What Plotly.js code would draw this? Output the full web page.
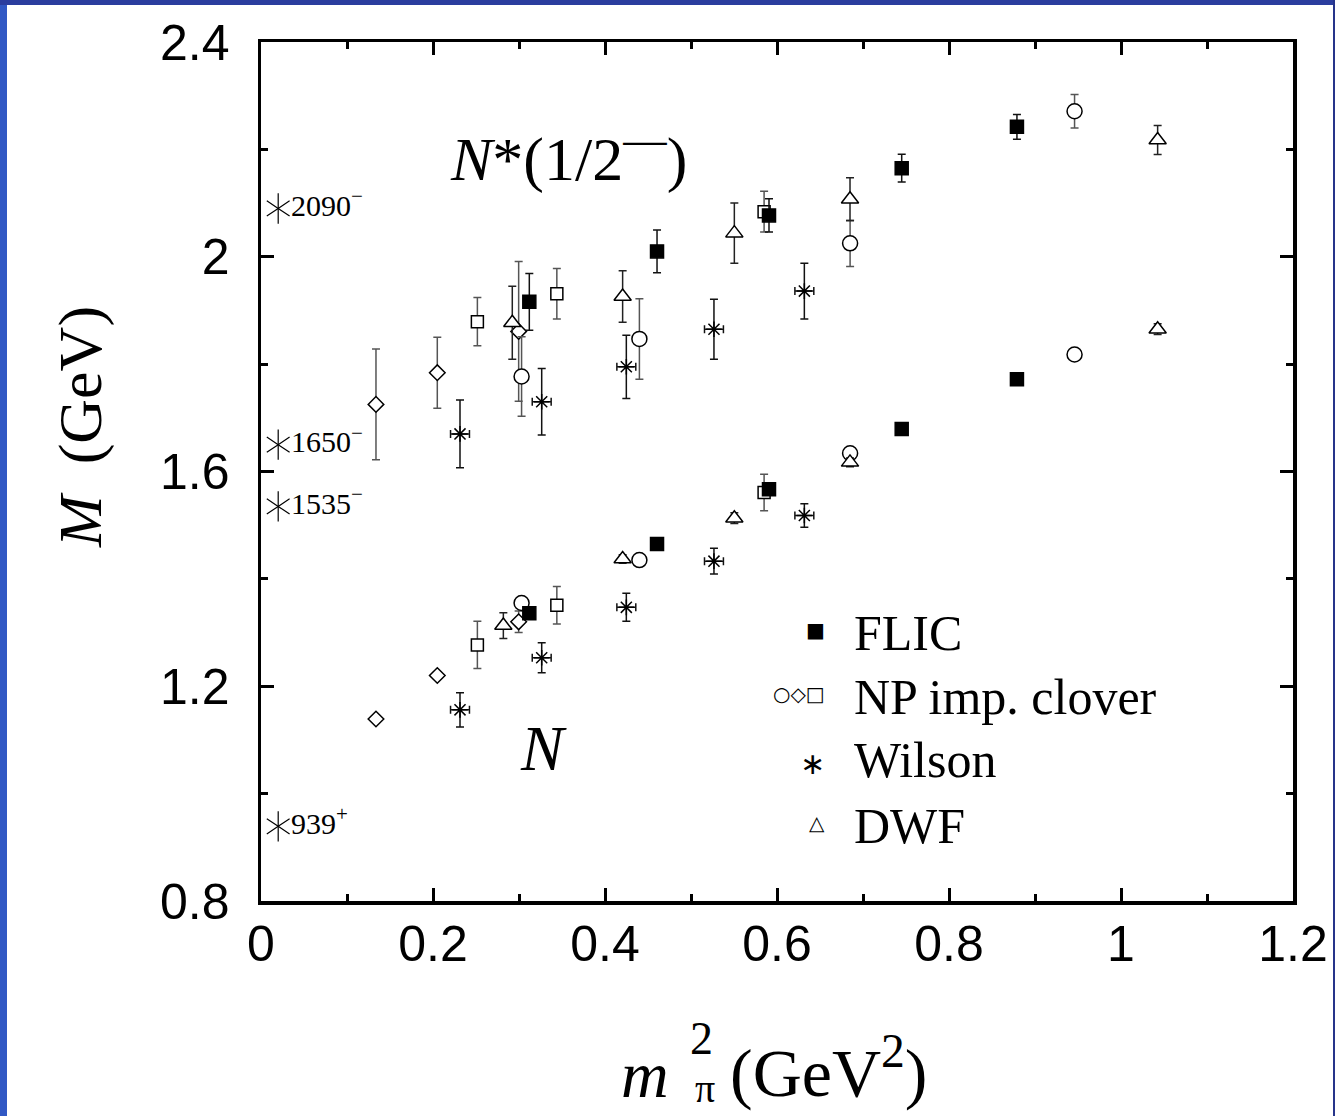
<!DOCTYPE html>
<html>
<head>
<meta charset="utf-8">
<script src="https://cdn.plot.ly/plotly-3.0.1.min.js"></script>
<style>
  html, body { margin: 0; padding: 0; background: #ffffff; }
  #chart { position: absolute; left: 0; top: 0; width: 1335px; height: 1116px; }
  .bl { position: absolute; left: 0; top: 0; width: 7px; height: 1116px; background: #3158c4; }
  .bt { position: absolute; left: 0; top: 0; width: 1335px; height: 5px; background: #2b3d9e; }
  .br { position: absolute; right: 0; top: 0; width: 2px; height: 1116px; background: #26348a; }
</style>
</head>
<body>
<div id="chart"></div>
<div class="bl"></div><div class="bt"></div><div class="br"></div>
<script>
// ---- data (m_pi^2 in GeV^2, M in GeV) ----
// FLIC
const flicX      = [0.312, 0.4605, 0.5907, 0.745, 0.879];
const flicNstar  = [1.916, 2.010, 2.077, 2.165, 2.242];
const flicNstarE = [0.053, 0.040, 0.031, 0.026, 0.023];
const flicN      = [1.336, 1.465, 1.567, 1.679, 1.772];
const flicNE     = [0.008, 0.008, 0.008, 0.008, 0.006];
// NP imp. clover: circles
const circX      = [0.303, 0.440, 0.685, 0.946];
const circNstar  = [1.777, 1.847, 2.025, 2.271];
const circNstarE = [0.074, 0.075, 0.043, 0.031];
const circN      = [1.355, 1.435, 1.634, 1.818];
const circNE     = [0.010, 0.008, 0.008, 0.006];
// NP imp. clover: diamonds
const diamX      = [0.1337, 0.205, 0.2996];
const diamNstar  = [1.725, 1.784, 1.861];
const diamNstarE = [0.103, 0.066, 0.130];
const diamN      = [1.139, 1.220, 1.320];
const diamNE     = [0.006, 0.006, 0.020];
// NP imp. clover: squares
const sqX        = [0.2516, 0.344, 0.585];
const sqNstar    = [1.879, 1.931, 2.084];
const sqNstarE   = [0.045, 0.047, 0.038];
const sqN        = [1.277, 1.351, 1.561];
const sqNE       = [0.044, 0.035, 0.034];
// Wilson
const wilX       = [0.2314, 0.3264, 0.4248, 0.5267, 0.6318];
const wilXE      = [0.011, 0.011, 0.011, 0.011, 0.011];
const wilNstar   = [1.670, 1.730, 1.795, 1.865, 1.936];
const wilNstarE  = [0.063, 0.062, 0.059, 0.056, 0.052];
const wilN       = [1.156, 1.253, 1.347, 1.433, 1.518];
const wilNE      = [0.032, 0.028, 0.026, 0.024, 0.022];
// DWF
const dwfXstar   = [0.2922, 0.4205, 0.5504, 0.6849, 1.0426];
const dwfNstar   = [1.877, 1.926, 2.044, 2.107, 2.2175];
const dwfNstarE  = [0.068, 0.048, 0.056, 0.040, 0.027];
const dwfX       = [0.2818, 0.4205, 0.5504, 0.6849, 1.0426];
const dwfN       = [1.313, 1.437, 1.513, 1.617, 1.865];
const dwfNE      = [0.024, 0.008, 0.010, 0.008, 0.010];
// physical states
const physX      = [0.02, 0.02, 0.02, 0.02];
const physM      = [2.090, 1.650, 1.535, 0.939];
const physLabels = ['2090<sup>−</sup>', '1650<sup>−</sup>', '1535<sup>−</sup>', '939<sup>+</sup>'];
// legend
const legendNames = ['FLIC', 'NP imp. clover', 'Wilson', 'DWF'];
const legendKeys  = ['■', '○◇□', '∗', '△'];

const serif = 'Liberation Serif, Times New Roman, serif';
const sans  = 'Liberation Sans, Arial, sans-serif';

function ey(arr, color) {
  return {type: 'data', array: arr, visible: true, color: color, thickness: 1.5, width: 4};
}
function pts(x, y, e, symbol, size, fill, ecol, extra) {
  const t = {
    type: 'scatter', mode: 'markers', x: x, y: y,
    error_y: ey(e, ecol),
    marker: {symbol: symbol, size: size, color: fill, line: {color: '#000', width: 1.5}},
    showlegend: false, hoverinfo: 'skip', cliponaxis: false
  };
  return Object.assign(t, extra || {});
}

const traces = [
  pts(diamX, diamNstar, diamNstarE, 'diamond', 12, '#fff', '#555'),
  pts(diamX, diamN, diamNE, 'diamond', 12, '#fff', '#555'),
  pts(circX, circNstar, circNstarE, 'circle', 15, '#fff', '#555'),
  pts(circX, circN, circNE, 'circle', 15, '#fff', '#555'),
  pts(sqX, sqNstar, sqNstarE, 'square', 12, '#fff', '#555'),
  pts(sqX, sqN, sqNE, 'square', 12, '#fff', '#555'),
  pts(dwfXstar, dwfNstar, dwfNstarE, 'triangle-up', 15, '#fff', '#222'),
  pts(dwfX, dwfN, dwfNE, 'triangle-up', 15, '#fff', '#222'),
  pts(wilX, wilNstar, wilNstarE, 'asterisk-open', 13, '#000', '#111',
      {error_x: {type: 'data', array: wilXE, visible: true, color: '#111', thickness: 1.5, width: 4}}),
  pts(wilX, wilN, wilNE, 'asterisk-open', 13, '#000', '#111',
      {error_x: {type: 'data', array: wilXE, visible: true, color: '#111', thickness: 1.5, width: 4}}),
  pts(flicX, flicNstar, flicNstarE, 'square', 13, '#000', '#111'),
  pts(flicX, flicN, flicNE, 'square', 13, '#000', '#111'),
  {
    type: 'scatter', mode: 'markers+text', x: physX, y: physM, text: physLabels,
    textposition: 'middle right',
    textfont: {family: serif, size: 30, color: '#000'},
    marker: {symbol: 'y-up-open', size: 19, color: '#000', line: {color: '#000', width: 1.2}},
    showlegend: false, hoverinfo: 'skip', cliponaxis: false
  },
  {
    type: 'scatter', mode: 'markers', x: physX, y: physM,
    marker: {symbol: 'y-down-open', size: 19, color: '#000', line: {color: '#000', width: 1.2}},
    showlegend: false, hoverinfo: 'skip', cliponaxis: false
  }
];

// plot area: x 261..1293 px, y 42..901 px
const legY = [0.312, 0.2375, 0.1641, 0.0873];
const keySize = [20, 20, 30, 20];
const keyDy = [0.004, 0.004, -0.004, 0.004];
const annotations = [];
legendNames.forEach((n, i) => {
  annotations.push({xref: 'paper', yref: 'paper', x: 0.5727, y: legY[i], xanchor: 'left', yanchor: 'middle',
    text: n, showarrow: false, font: {family: serif, size: 50, color: '#000'}});
  annotations.push({xref: 'paper', yref: 'paper', x: 0.548, y: legY[i] + keyDy[i], xanchor: 'right', yanchor: 'middle',
    text: legendKeys[i], showarrow: false, font: {family: 'DejaVu Sans, sans-serif', size: keySize[i], color: '#000'}});
});
annotations.push(
  {xref: 'paper', yref: 'paper', x: 0.2975, y: 0.8685, xanchor: 'center', yanchor: 'middle', showarrow: false,
   text: '<i>N</i>*(1/2<sup>—</sup>)', font: {family: serif, size: 62, color: '#000'}},
  {xref: 'paper', yref: 'paper', x: 0.2733, y: 0.178, xanchor: 'center', yanchor: 'middle', showarrow: false,
   text: '<i>N</i>', font: {family: serif, size: 64, color: '#000'}},
  // y axis title
  {xref: 'paper', yref: 'paper', x: -0.1754, y: 0.5518, xanchor: 'center', yanchor: 'middle', showarrow: false,
   textangle: -90, text: '<i>M</i>  (GeV)', font: {family: serif, size: 62, color: '#000'}},
  // x axis title pieces
  {xref: 'paper', yref: 'paper', x: 0.372, y: -0.2014, xanchor: 'center', yanchor: 'middle', showarrow: false,
   text: '<i>m</i>', font: {family: serif, size: 66, color: '#000'}},
  {xref: 'paper', yref: 'paper', x: 0.4273, y: -0.160, xanchor: 'center', yanchor: 'middle', showarrow: false,
   text: '2', font: {family: serif, size: 46, color: '#000'}},
  {xref: 'paper', yref: 'paper', x: 0.430, y: -0.2177, xanchor: 'center', yanchor: 'middle', showarrow: false,
   text: 'π', font: {family: serif, size: 40, color: '#000'}},
  {xref: 'paper', yref: 'paper', x: 0.4525, y: -0.1944, xanchor: 'left', yanchor: 'middle', showarrow: false,
   text: '(GeV<sup>2</sup>)', font: {family: serif, size: 68, color: '#000'}}
);

const axisCommon = {
  showline: true, linewidth: 3.5, linecolor: '#000', mirror: 'ticks',
  ticks: 'inside', ticklen: 13, tickwidth: 3, tickcolor: '#000',
  showgrid: false, zeroline: false,
  tickfont: {family: sans, size: 50, color: '#000'}
};

const layout = {
  width: 1335, height: 1116,
  margin: {l: 261, r: 42, t: 42, b: 215},
  paper_bgcolor: '#fff', plot_bgcolor: '#fff',
  showlegend: false,
  xaxis: Object.assign({}, axisCommon, {
    range: [0, 1.2], tick0: 0, dtick: 0.2, ticklabelstandoff: -4,
    minor: {dtick: 0.1, ticks: 'inside', ticklen: 7, tickwidth: 3, tickcolor: '#000', showgrid: false}
  }),
  yaxis: Object.assign({}, axisCommon, {
    range: [0.8, 2.4], tick0: 0.8, dtick: 0.4, ticklabelstandoff: 18,
    minor: {dtick: 0.2, ticks: 'inside', ticklen: 7, tickwidth: 3, tickcolor: '#000', showgrid: false}
  }),
  annotations: annotations
};

Plotly.newPlot('chart', traces, layout, {staticPlot: true, displayModeBar: false});
</script>
</body>
</html>
